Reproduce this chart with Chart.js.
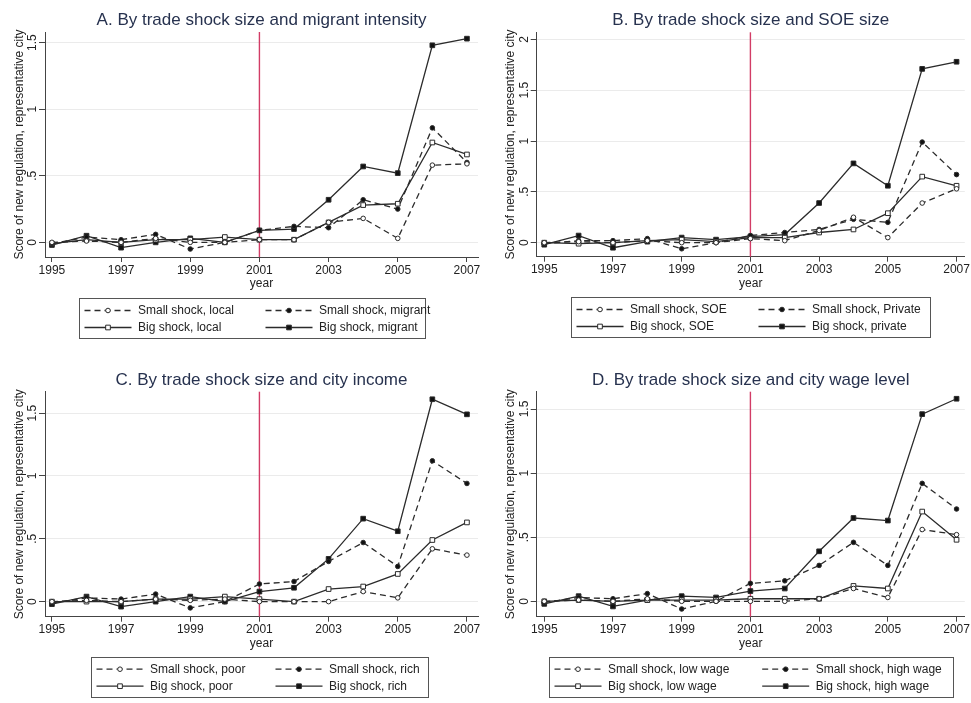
<!DOCTYPE html>
<html>
<head>
<meta charset="utf-8">
<script src="https://cdn.jsdelivr.net/npm/chart.js@4.4.1/dist/chart.umd.min.js"></script>
<style>
  html, body { margin: 0; padding: 0; background: #fff; }
  #wrap { position: relative; width: 971px; height: 703px; }
  .panel { position: absolute; }
</style>
</head>
<body>
<div id="wrap">
  <div class="panel" style="left:0;top:0;width:485px;height:348px"><canvas id="chartA"></canvas></div>
  <div class="panel" style="left:485px;top:0;width:486px;height:348px"><canvas id="chartB"></canvas></div>
  <div class="panel" style="left:0;top:350px;width:485px;height:353px"><canvas id="chartC"></canvas></div>
  <div class="panel" style="left:485px;top:350px;width:486px;height:353px"><canvas id="chartD"></canvas></div>
</div>
<script>
// data
const years = [1995, 1996, 1997, 1998, 1999, 2000, 2001, 2002, 2003, 2004, 2005, 2006, 2007];
const xTickLabels = [1995, 1997, 1999, 2001, 2003, 2005, 2007];
const yTicks = [0, 0.5, 1, 1.5];
const yTicksB = [0, 0.5, 1, 1.5, 2];
const wtoYear = 2001;

// A. migrant intensity
const smallLocal   = [0.00, 0.01, 0.00, 0.03, 0.00, 0.00, 0.02, 0.02, 0.15, 0.18, 0.03, 0.58, 0.59];
const smallMigrant = [-0.01, 0.04, 0.02, 0.06, -0.05, 0.00, 0.09, 0.12, 0.11, 0.32, 0.25, 0.86, 0.60];
const bigLocal     = [-0.01, 0.02, 0.00, 0.02, 0.02, 0.04, 0.02, 0.02, 0.15, 0.28, 0.29, 0.75, 0.66];
const bigMigrant   = [-0.02, 0.05, -0.04, 0.00, 0.03, 0.00, 0.09, 0.10, 0.32, 0.57, 0.52, 1.48, 1.53];

// B. SOE size
const smallSOE     = [0.00, 0.01, 0.00, 0.02, 0.00, 0.00, 0.04, 0.02, 0.12, 0.25, 0.05, 0.39, 0.53];
const smallPrivate = [-0.01, 0.02, 0.02, 0.04, -0.06, 0.00, 0.07, 0.10, 0.13, 0.23, 0.20, 0.99, 0.67];
const bigSOE       = [0.00, -0.01, 0.00, 0.02, 0.03, 0.01, 0.05, 0.05, 0.10, 0.13, 0.29, 0.65, 0.56];
const bigPrivate   = [-0.02, 0.07, -0.05, 0.01, 0.05, 0.03, 0.06, 0.08, 0.39, 0.78, 0.56, 1.71, 1.78];

// C. city income
const smallPoor = [0.00, 0.01, 0.00, 0.02, 0.01, 0.02, 0.00, 0.00, 0.00, 0.08, 0.03, 0.42, 0.37];
const smallRich = [-0.01, 0.03, 0.02, 0.06, -0.05, 0.00, 0.14, 0.16, 0.32, 0.47, 0.28, 1.12, 0.94];
const bigPoor   = [0.00, 0.00, 0.00, 0.02, 0.02, 0.04, 0.02, 0.00, 0.10, 0.12, 0.22, 0.49, 0.63];
const bigRich   = [-0.02, 0.04, -0.04, 0.00, 0.04, 0.00, 0.08, 0.11, 0.34, 0.66, 0.56, 1.61, 1.49];

// D. city wage level
const smallLowWage  = [0.00, 0.01, 0.00, 0.02, 0.00, 0.00, 0.00, 0.00, 0.02, 0.10, 0.03, 0.56, 0.52];
const smallHighWage = [-0.01, 0.03, 0.02, 0.06, -0.06, 0.00, 0.14, 0.16, 0.28, 0.46, 0.28, 0.92, 0.72];
const bigLowWage    = [0.00, 0.01, 0.00, 0.01, 0.01, 0.01, 0.02, 0.02, 0.02, 0.12, 0.10, 0.70, 0.48];
const bigHighWage   = [-0.02, 0.04, -0.04, 0.01, 0.04, 0.03, 0.08, 0.10, 0.39, 0.65, 0.63, 1.46, 1.58];

const labelsA = ['Small shock, local', 'Small shock, migrant', 'Big shock, local', 'Big shock, migrant'];
const labelsB = ['Small shock, SOE', 'Small shock, Private', 'Big shock, SOE', 'Big shock, private'];
const labelsC = ['Small shock, poor', 'Small shock, rich', 'Big shock, poor', 'Big shock, rich'];
const labelsD = ['Small shock, low wage', 'Small shock, high wage', 'Big shock, low wage', 'Big shock, high wage'];

const FONT = '"Liberation Sans", Arial, Helvetica, sans-serif';
const INK = '#222';
const AXIS = '#444';

// draws the panel title above the plot region
const panelTitle = {
    id: 'panelTitle',
    afterDraw(chart, args, opts) {
        const { ctx, chartArea } = chart;
        ctx.save();
        ctx.font = '17px ' + FONT;
        ctx.fillStyle = '#27324f';
        ctx.textAlign = 'center';
        ctx.textBaseline = 'middle';
        ctx.fillText(opts.text, (chartArea.left + chartArea.right) / 2, chartArea.top - 11.5);
        ctx.restore();
    }
};

// red vertical line at WTO entry
const wtoLine = {
    id: 'wtoLine',
    beforeDatasetsDraw(chart) {
        const { ctx, chartArea } = chart;
        const x = chart.scales.x.getPixelForValue(wtoYear);
        ctx.save();
        ctx.strokeStyle = '#d23c66';
        ctx.lineWidth = 1.4;
        ctx.beginPath();
        ctx.moveTo(x, chartArea.top);
        ctx.lineTo(x, chartArea.bottom);
        ctx.stroke();
        ctx.restore();
    }
};

// Stata style boxed legend, 2 columns
const boxLegend = {
    id: 'boxLegend',
    afterDraw(chart, args, opts) {
        const { ctx } = chart;
        const ds = chart.data.datasets;
        const sample = 47, gap = 6.5, pad = 5.5;
        ctx.save();
        ctx.font = '12px ' + FONT;
        ctx.strokeStyle = '#555';
        ctx.lineWidth = 1;
        ctx.strokeRect(Math.round(opts.left) + 0.5, Math.round(opts.top) + 0.5, Math.round(opts.width), 40);
        ds.forEach((d, i) => {
            const col = i % 2, row = Math.floor(i / 2);
            const x0 = opts.left + pad + col * opts.col2;
            const y = opts.top + 12.5 + row * 17;
            ctx.strokeStyle = d.borderColor;
            ctx.lineWidth = d.borderWidth;
            ctx.setLineDash(d.borderDash);
            ctx.beginPath();
            ctx.moveTo(x0, y);
            ctx.lineTo(x0 + sample, y);
            ctx.stroke();
            ctx.setLineDash([]);
            ctx.fillStyle = d.pointBackgroundColor;
            ctx.strokeStyle = d.pointBorderColor;
            ctx.lineWidth = d.pointBorderWidth;
            const cx = x0 + sample / 2;
            ctx.beginPath();
            if (d.pointStyle === 'circle') {
                ctx.arc(cx, y, d.pointRadius, 0, Math.PI * 2);
            } else {
                const s = d.pointRadius * Math.SQRT1_2;
                ctx.rect(cx - s, y - s, 2 * s, 2 * s);
            }
            ctx.fill();
            ctx.stroke();
            ctx.fillStyle = INK;
            ctx.textBaseline = 'middle';
            ctx.textAlign = 'left';
            ctx.fillText(d.label, x0 + sample + gap, y + 0.5);
        });
        ctx.restore();
    }
};

function yLabel(v) {
    return String(v).replace(/^0\./, '.');
}

function makeChart(id, p) {
    const datasets = p.series.map((vals, i) => {
        const small = i < 2;
        const filled = i % 2 === 1;
        return {
            label: p.labels[i],
            data: years.map((yr, k) => ({ x: yr, y: vals[k] })),
            borderColor: '#2b2b2b',
            borderWidth: 1.3,
            borderDash: small ? [6, 4] : [],
            pointStyle: small ? 'circle' : 'rect',
            pointRadius: small ? 2.3 : 3.3,
            pointBorderWidth: 1,
            pointBorderColor: '#2b2b2b',
            pointBackgroundColor: filled ? '#111' : '#fff',
            tension: 0,
            fill: false
        };
    });

    return new Chart(document.getElementById(id), {
        type: 'line',
        data: { datasets },
        plugins: [panelTitle, wtoLine, boxLegend],
        options: {
            responsive: true,
            maintainAspectRatio: false,
            animation: false,
            layout: { padding: { left: p.padL, right: p.padR, top: p.padT, bottom: p.padB } },
            plugins: {
                legend: { display: false },
                tooltip: { enabled: false },
                panelTitle: { text: p.title },
                boxLegend: p.legend
            },
            scales: {
                x: {
                    type: 'linear',
                    min: p.xMin,
                    max: p.xMax,
                    afterBuildTicks: s => { s.ticks = xTickLabels.map(v => ({ value: v })); },
                    afterFit: s => { s.height = p.xH; },
                    grid: { display: true, drawOnChartArea: false, drawTicks: true, tickLength: 5, tickColor: AXIS, color: AXIS },
                    border: { display: true, color: AXIS, width: 1 },
                    ticks: { color: INK, font: { family: FONT, size: 12 }, padding: 1, maxRotation: 0, autoSkip: false, callback: v => String(v) },
                    title: { display: true, text: 'year', color: INK, font: { family: FONT, size: 12 }, padding: { top: 0, bottom: 0 } }
                },
                y: {
                    min: p.yMin,
                    max: p.yMax,
                    afterBuildTicks: s => { s.ticks = p.yTicks.map(v => ({ value: v })); },
                    afterFit: s => { s.width = p.yW; },
                    grid: { color: '#ebebeb', lineWidth: 1, drawTicks: true, tickLength: 6, tickColor: AXIS },
                    border: { display: true, color: AXIS, width: 1 },
                    ticks: { color: INK, font: { family: FONT, size: 12 }, padding: -2.5, minRotation: 90, maxRotation: 90, crossAlign: 'center', callback: v => yLabel(v) },
                    title: { display: true, text: 'Score of new regulation, representative city', color: INK, font: { family: FONT, size: 12 }, padding: { top: 0, bottom: 0 } }
                }
            }
        }
    });
}

makeChart('chartA', {
    title: 'A. By trade shock size and migrant intensity',
    labels: labelsA,
    series: [smallLocal, smallMigrant, bigLocal, bigMigrant],
    yTicks: yTicks, yMin: -0.11, yMax: 1.58,
    xMin: 1994.8, xMax: 2007.32,
    padL: 12, yW: 33, padR: 7, padT: 32, xH: 34, padB: 57,
    legend: { left: 79, top: 298, width: 346, col2: 181 }
});

makeChart('chartB', {
    title: 'B. By trade shock size and SOE size',
    labels: labelsB,
    series: [smallSOE, smallPrivate, bigSOE, bigPrivate],
    yTicks: yTicksB, yMin: -0.138, yMax: 2.07,
    xMin: 1994.78, xMax: 2007.24,
    padL: 18, yW: 33.7, padR: 4.5, padT: 32.3, xH: 34.3, padB: 57,
    legend: { left: 86, top: 297, width: 359, col2: 182 }
});

makeChart('chartC', {
    title: 'C. By trade shock size and city income',
    labels: labelsC,
    series: [smallPoor, smallRich, bigPoor, bigRich],
    yTicks: yTicks, yMin: -0.12, yMax: 1.67,
    xMin: 1994.8, xMax: 2007.32,
    padL: 12, yW: 33, padR: 7, padT: 41.7, xH: 34.5, padB: 51.8,
    legend: { left: 91, top: 306.7, width: 337, col2: 179 }
});

makeChart('chartD', {
    title: 'D. By trade shock size and city wage level',
    labels: labelsD,
    series: [smallLowWage, smallHighWage, bigLowWage, bigHighWage],
    yTicks: yTicks, yMin: -0.12, yMax: 1.635,
    xMin: 1994.78, xMax: 2007.24,
    padL: 18, yW: 33.7, padR: 4.5, padT: 41.7, xH: 34.5, padB: 51.8,
    legend: { left: 64, top: 306.7, width: 404, col2: 207.7 }
});
</script>
</body>
</html>
